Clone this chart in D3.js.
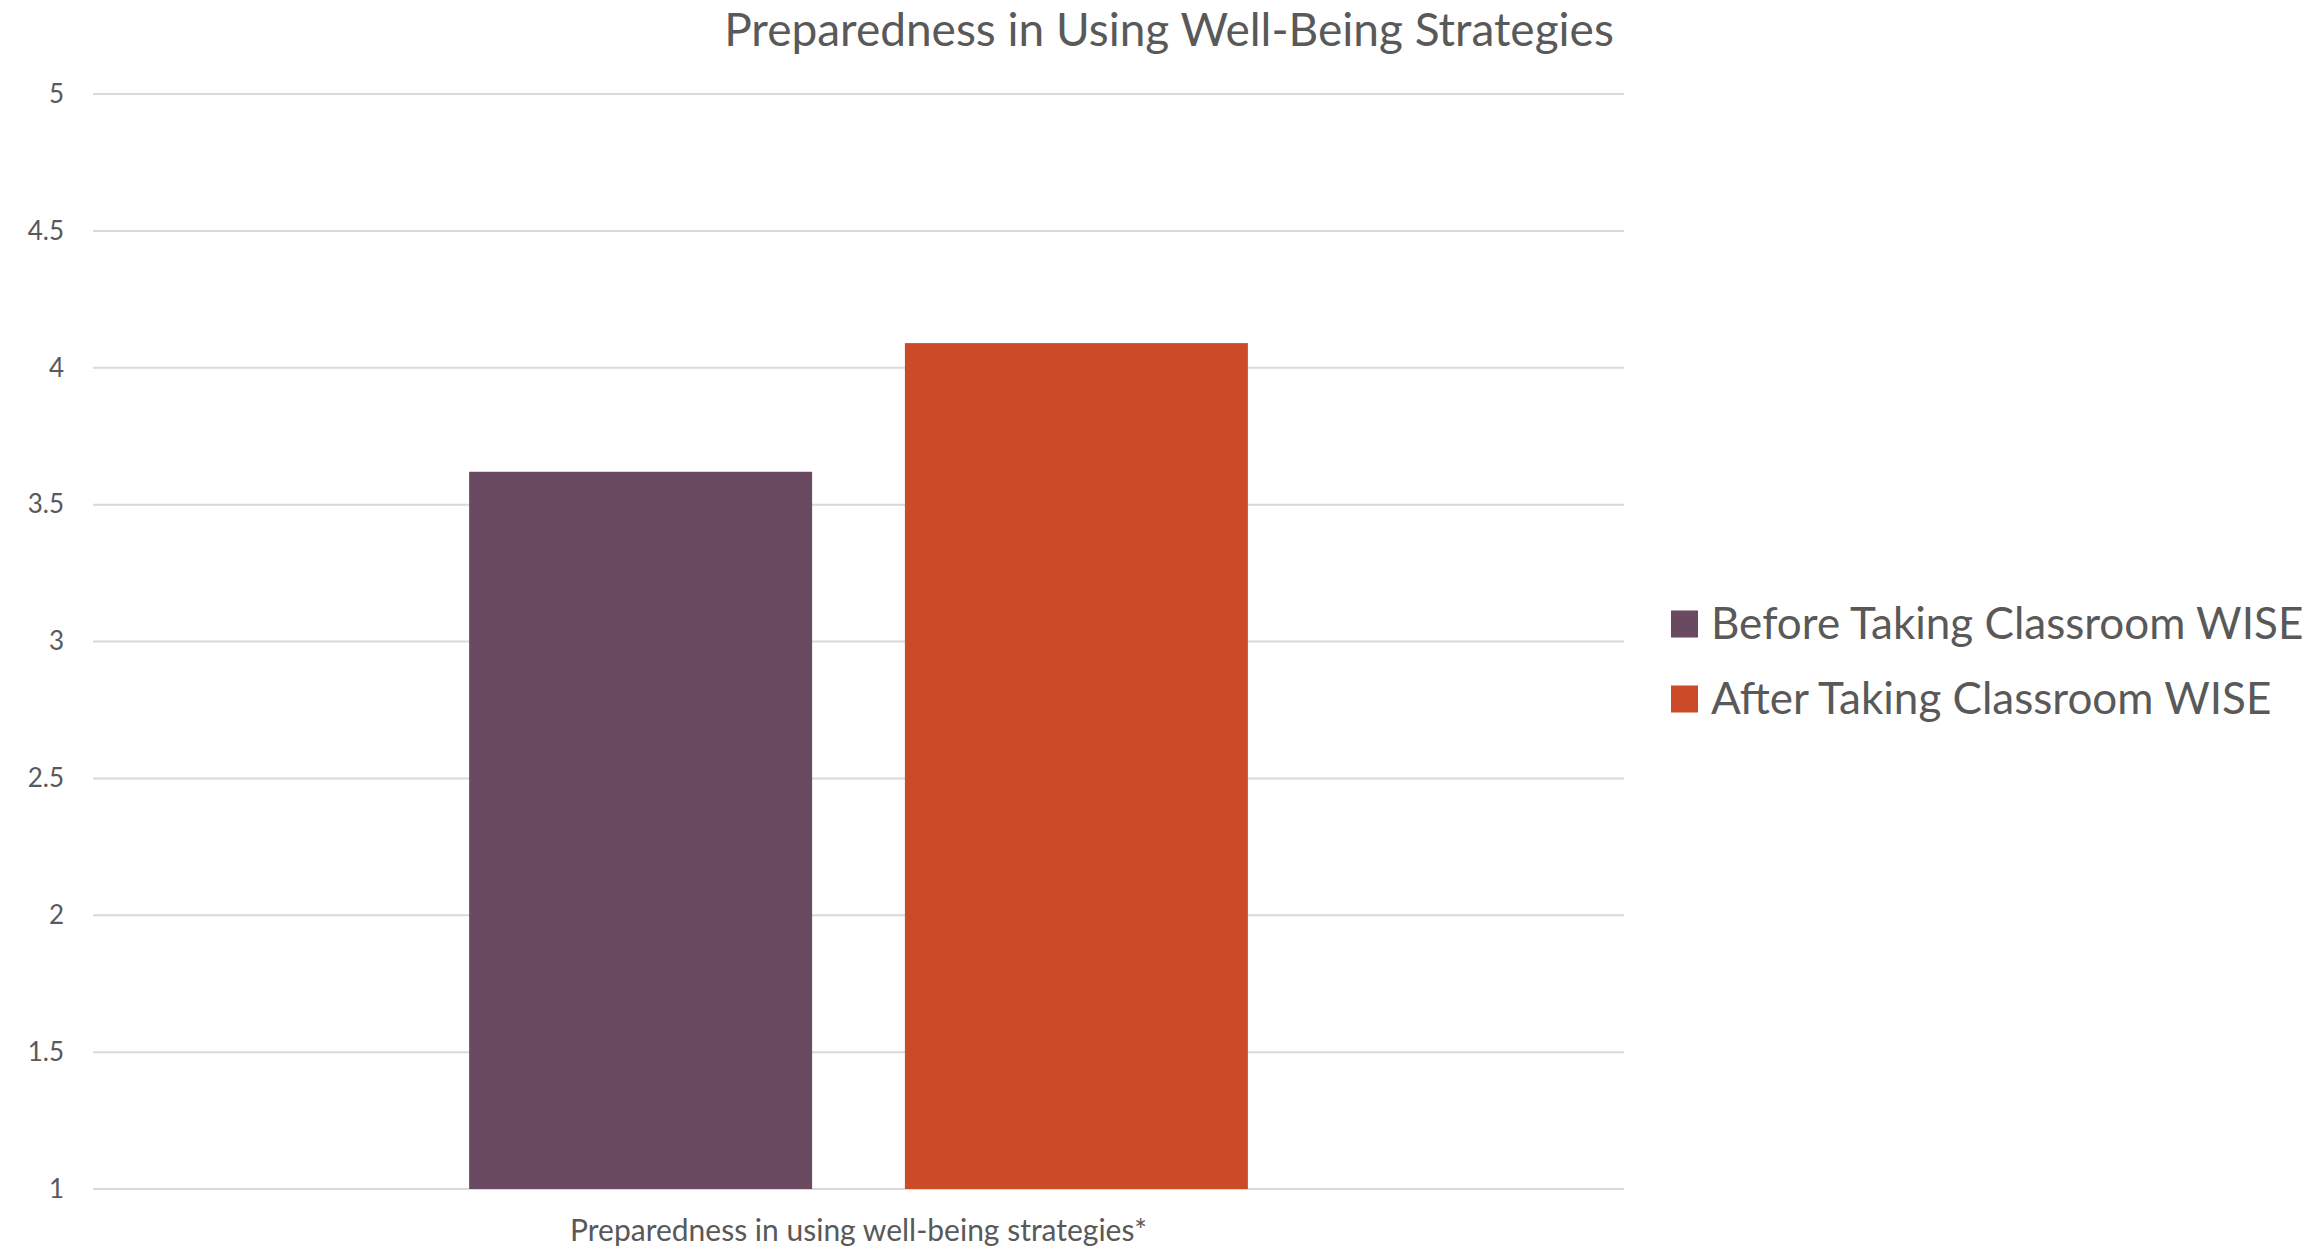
<!DOCTYPE html>
<html>
<head>
<meta charset="utf-8">
<script src="https://cdn.jsdelivr.net/npm/d3@7"></script>
<style>
  html, body { margin: 0; padding: 0; background: #ffffff; }
  svg { display: block; font-family: Lato, "Open Sans", sans-serif; }
</style>
</head>
<body>
<script>
// Chart data
const categories = ["Preparedness in using well-being strategies*"];
const seriesNames = ["Before Taking Classroom WISE", "After Taking Classroom WISE"];
const seriesValues = [[3.62], [4.09]];
const seriesColors = ["#6a4a61", "#cb4a27"];
const yTicks = [1, 1.5, 2, 2.5, 3, 3.5, 4, 4.5, 5];
const chartTitle = "Preparedness in Using Well-Being Strategies";

const W = 2323, H = 1249;
const margin = { left: 93, right: 699, top: 94, bottom: 60 };
const plotRight = W - margin.right;
const plotBottom = H - margin.bottom;

const svg = d3.select("body").append("svg")
  .attr("width", W).attr("height", H);

const y = d3.scaleLinear().domain([1, 5]).range([plotBottom, margin.top]);

const x0 = d3.scaleBand().domain(categories)
  .range([margin.left, plotRight])
  .paddingInner(0).paddingOuter(0.483);

const x1 = d3.scaleBand().domain(seriesNames)
  .range([0, x0.bandwidth()])
  .paddingInner(0.213).paddingOuter(0);

// Horizontal gridlines
svg.append("g")
  .selectAll("line").data(yTicks).join("line")
  .attr("x1", margin.left).attr("x2", plotRight)
  .attr("y1", d => y(d)).attr("y2", d => y(d))
  .attr("stroke", "#d9d9d9").attr("stroke-width", 2);

// Y axis labels
const yAxis = d3.axisLeft(y).tickValues(yTicks).tickSize(0).tickPadding(29)
  .tickFormat(d3.format("~g"));
const gy = svg.append("g").attr("transform", `translate(${margin.left},0)`).call(yAxis);
gy.select(".domain").remove();
gy.selectAll("text").attr("fill", "#595959").style("font-size", "26px")
  .style("font-family", "Lato, 'Open Sans', sans-serif");

// Bars
const rows = seriesNames.map((s, i) => ({ series: s, value: seriesValues[i][0], color: seriesColors[i], cat: categories[0] }));
svg.append("g").selectAll("rect").data(rows).join("rect")
  .attr("x", d => x0(d.cat) + x1(d.series))
  .attr("width", x1.bandwidth())
  .attr("y", d => y(d.value))
  .attr("height", d => y(1) - y(d.value))
  .attr("fill", d => d.color);

// X axis category label
const xAxis = d3.axisBottom(x0).tickSize(0).tickPadding(31);
const gx = svg.append("g").attr("transform", `translate(0,${plotBottom})`).call(xAxis);
gx.select(".domain").remove();
gx.selectAll("text").attr("fill", "#595959").style("font-size", "30px")
  .style("font-family", "Lato, 'Open Sans', sans-serif");

// Title
svg.append("text")
  .attr("x", 1169).attr("y", 46)
  .attr("text-anchor", "middle")
  .attr("fill", "#595959")
  .style("font-size", "46px")
  .text(chartTitle);

// Legend
const legend = svg.append("g").attr("transform", "translate(1671,0)");
const legendRows = [624, 699];
seriesNames.forEach((s, i) => {
  legend.append("rect")
    .attr("x", 0).attr("y", legendRows[i] - 13.5)
    .attr("width", 27).attr("height", 27)
    .attr("fill", seriesColors[i]);
  legend.append("text")
    .attr("x", 40).attr("y", legendRows[i])
    .attr("dy", "0.35em")
    .attr("fill", "#595959")
    .style("font-size", "44px")
    .text(s);
});
</script>
</body>
</html>
